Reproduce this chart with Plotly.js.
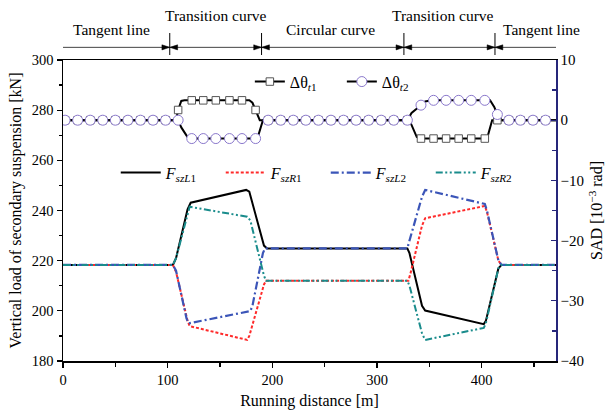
<!DOCTYPE html>
<html><head><meta charset="utf-8">
<script src="https://cdn.plot.ly/plotly-3.0.1.min.js"></script>
<style>html,body{margin:0;padding:0;background:#fff}#chart{width:607px;height:410px}</style>
</head><body><div id="chart"></div>
<script>
// ---- Data ----
// Vertical load of secondary suspension [kN]
const xL1 = [0,105,108,119,122,175,178,192,195,329,331,343,346,402,404,416,419,471];
const yL1 = [218.3,218.3,221,240.5,243.1,248.2,247.5,226,224.9,224.9,223,202,200.1,194.7,196,217,218.3,218.3];
const xR1 = [0,105,108,119,121,176,178,192,194,330,332,343,346,403,405,416,419,471];
const yR1 = [218.3,218.3,215.5,196,193.9,188.4,190,210.5,212,212,215,234,236.9,241.8,239.5,220,218.3,218.3];
const xL2 = [0,105,108,118,120,179,181,191,193,329,331,343,346,403,405,416,419,471];
const yL2 = [218.3,218.3,216,197,195,199.9,202,223,224.9,224.9,228,245.5,248.2,242.6,240,220,218.3,218.3];
const xR2 = [0,105,108,119,121,176,179,192,194,329,331,343,346,402,404,416,419,471];
const yR2 = [218.3,218.3,221,239,241.5,237.5,236,214,212,212,210,191,188.4,193.2,195,217,218.3,218.3];

// SAD [10^-3 rad]: continuous curves
const xT1 = [0,108,110,113,116,178,181,184,188,331,338,341,404,406,410,471];
const yT1 = [0,0,1.7,3.2,3.3,3.3,2.9,1.7,0,0,-2.8,-3.05,-3.05,-2.5,0,0];
const xT2 = [0,110,113,119,123,184,187,191,329,333,342,346,352,403,408,412,415,419,471];
const yT2 = [0,0,-1.2,-2.8,-3.05,-3.05,-2.3,0,0,1.2,2.5,3.1,3.3,3.3,3.3,2.2,0.95,0,0];

// SAD marker samples
const xMarks = [2,14,26,38,50,62,74,86,98,110,123,134,146,159,171,184,196,208,220,232,244,256,268,280,292,304,316,329,342,354,366,378,390,403,415,426,437,449,461];
const mT1 = [0,0,0,0,0,0,0,0,0,1.7,3.3,3.3,3.3,3.3,3.3,1.7,0,0,0,0,0,0,0,0,0,0,0,0,-3.05,-3.05,-3.05,-3.05,-3.05,-3.05,0,0,0,0,0];
const mT2 = [0,0,0,0,0,0,0,0,0,0,-3.05,-3.05,-3.05,-3.05,-3.05,-3.05,0,0,0,0,0,0,0,0,0,0,0,0,2.5,3.3,3.3,3.3,3.3,3.3,0.95,0,0,0,0];

// Section boundaries (top annotation) and labels
const sectionBounds = [102, 189.7, 325.7, 412.7];
const sectionLabels = ['Tangent line','Transition curve','Circular curve','Transition curve','Tangent line'];
const seriesNames = ['<i>F</i><sub><i>szL</i>1</sub>','<i>F</i><sub><i>szR</i>1</sub>','<i>F</i><sub><i>szL</i>2</sub>','<i>F</i><sub><i>szR</i>2</sub>'];
const thetaNames = ['Δθ<sub><i>t</i>1</sub>','Δθ<sub><i>t</i>2</sub>'];

// ---- Styles ----
const FONT = 'Liberation Serif, Times New Roman, serif';
const cBlack = '#000000', cRed = '#ff2a2a', cBlue = '#3b55b8', cTeal = '#1a8c8c', cNavy = '#26267a';
const sqStyle = {symbol:'square', size:7.5, color:'#ffffff', line:{color:'#555555', width:1}};
const ciStyle = {symbol:'circle', size:10, color:'#ffffff', line:{color:'#8a78cc', width:1}};

const traces = [
  {x:xT1, y:yT1, yaxis:'y2', mode:'lines', line:{color:cBlack, width:2}, showlegend:false, hoverinfo:'skip'},
  {x:xT2, y:yT2, yaxis:'y2', mode:'lines', line:{color:cBlack, width:2}, showlegend:false, hoverinfo:'skip'},
  {x:xMarks, y:mT1, yaxis:'y2', mode:'markers', marker:sqStyle, showlegend:false},
  {x:xMarks, y:mT2, yaxis:'y2', mode:'markers', marker:ciStyle, showlegend:false},
  {x:[null], y:[null], yaxis:'y2', mode:'lines+markers', name:thetaNames[0], line:{color:cBlack, width:2}, marker:sqStyle, legend:'legend'},
  {x:[null], y:[null], yaxis:'y2', mode:'lines+markers', name:thetaNames[1], line:{color:cBlack, width:2}, marker:ciStyle, legend:'legend'},
  {x:xL1, y:yL1, mode:'lines', name:seriesNames[0], line:{color:cBlack, width:2}, legend:'legend2'},
  {x:xR1, y:yR1, mode:'lines', name:seriesNames[1], line:{color:cRed, width:2, dash:'3px,2px'}, legend:'legend2'},
  {x:xL2, y:yL2, mode:'lines', name:seriesNames[2], line:{color:cBlue, width:2.2, dash:'8px,3px,2px,3px'}, legend:'legend2'},
  {x:xR2, y:yR2, mode:'lines', name:seriesNames[3], line:{color:cTeal, width:2, dash:'7px,2.5px,2px,2.5px,2px,2.5px'}, legend:'legend2'}
];

// top annotation shapes
const shapes = [];
const yLine = 1.042, yTop = 1.0897, yBot = 1.0166;
shapes.push({type:'line', xref:'x', yref:'paper', x0:0, x1:471, y0:yLine, y1:yLine, line:{color:'#444', width:1}});
const aw = 7.5, ah = 0.0085;
sectionBounds.forEach(b => {
  shapes.push({type:'line', xref:'x', yref:'paper', x0:b, x1:b, y0:yBot, y1:yTop, line:{color:'#000', width:1}});
  shapes.push({type:'path', xref:'x', yref:'paper', path:`M${b-aw},${yLine+ah} L${b},${yLine} L${b-aw},${yLine-ah} Z`, fillcolor:'#000', line:{color:'#000', width:0.5}});
  shapes.push({type:'path', xref:'x', yref:'paper', path:`M${b+aw},${yLine+ah} L${b},${yLine} L${b+aw},${yLine-ah} Z`, fillcolor:'#000', line:{color:'#000', width:0.5}});
});
const labelX = [46.5, 146.5, 256, 363, 457];
const labelY = [1.0997, 1.1495, 1.0997, 1.1495, 1.0997];
const annotations = sectionLabels.map((t,i) => ({text:t, x:labelX[i], xref:'x', y:labelY[i], yref:'paper', showarrow:false, xanchor:'center', yanchor:'middle', font:{family:FONT, size:15.5, color:'#000'}}));

const layout = {
  width:607, height:410,
  margin:{l:63, r:51, t:60, b:49, pad:0},
  paper_bgcolor:'#fff', plot_bgcolor:'#fff',
  font:{family:FONT, size:14.5, color:'#000'},
  xaxis:{range:[0,471], tick0:0, dtick:100, ticks:'outside', ticklen:5, tickwidth:1.3, tickcolor:'#000',
    showline:true, linecolor:'#000', linewidth:1.5, mirror:true, showgrid:false, zeroline:false,
    minor:{dtick:50, ticks:'outside', ticklen:4, tickwidth:1.3, tickcolor:'#000'},
    tickfont:{size:14.5}, title:{text:'Running distance [m]', font:{size:16}, standoff:12}},
  yaxis:{range:[180,300], tick0:180, dtick:20, ticks:'outside', ticklen:5, tickwidth:1.3, tickcolor:'#000',
    showline:true, linecolor:'#000', linewidth:1.5, showgrid:false, zeroline:false,
    minor:{dtick:10, ticks:'outside', ticklen:3, tickwidth:1.3, tickcolor:'#000'},
    tickfont:{size:14.5}, title:{text:'Vertical load of secondary suspension [kN]', font:{size:16}, standoff:6}},
  yaxis2:{overlaying:'y', side:'right', range:[-40,10], tick0:-40, dtick:10, ticks:'inside', ticklen:5, tickwidth:1.3, tickcolor:cNavy,
    showline:true, linecolor:cNavy, linewidth:1.5, showgrid:false, zeroline:false,
    minor:{dtick:5, ticks:'inside', ticklen:4, tickwidth:1.3, tickcolor:cNavy},
    tickfont:{size:15}, title:{text:'SAD [10<sup>−3</sup> rad]', font:{size:16}, standoff:8}},
  legend:{orientation:'h', x:0.379, xanchor:'left', y:0.928, yanchor:'middle', bgcolor:'rgba(0,0,0,0)', borderwidth:0,
    font:{family:FONT, size:16}, entrywidth:47, entrywidthmode:'pixels', itemwidth:30, tracegroupgap:0},
  legend2:{orientation:'h', x:0.107, xanchor:'left', y:0.6256, yanchor:'middle', bgcolor:'rgba(0,0,0,0)', borderwidth:0,
    font:{family:FONT, size:16}, entrywidth:50, entrywidthmode:'pixels', itemwidth:40, tracegroupgap:0},
  shapes:shapes, annotations:annotations,
  hovermode:false
};
Plotly.newPlot('chart', traces, layout, {displayModeBar:false, staticPlot:true});
</script></body></html>
